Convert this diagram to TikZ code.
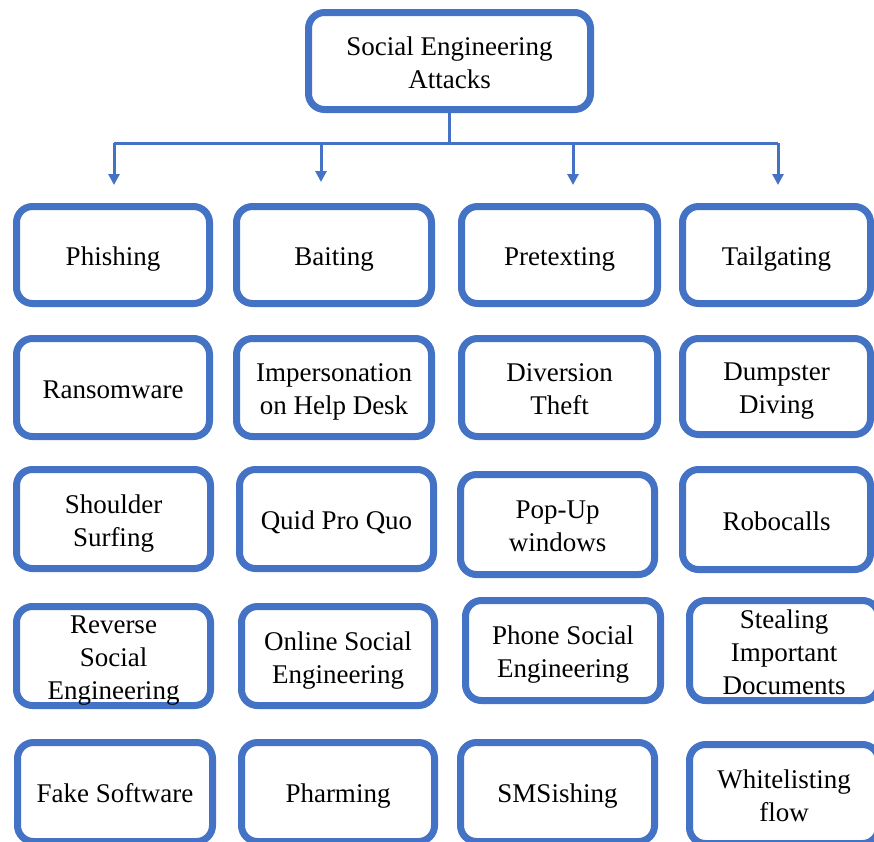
\documentclass[tikz,border=0pt]{standalone}
\usepackage{fontspec}
\setmainfont{Liberation Serif}
\usetikzlibrary{arrows.meta}
\definecolor{seblue}{HTML}{4472C4}
\newcommand\boxlbl[1]{\raisebox{0pt}[\dimexpr\height+4pt\relax][\dimexpr\depth-4pt\relax]{\begin{tabular}{@{}c@{}}#1\end{tabular}}}
\begin{document}
\begin{tikzpicture}[x=1pt,y=-1pt,
  box/.style={draw=seblue, line width=7pt, rounded corners=16pt, fill=white,
    inner sep=0pt, font=\fontsize{27}{33}\selectfont},
  conn/.style={draw=seblue, line width=3pt},
  arr/.style={conn, -{Triangle[width=11pt,length=11pt]}}]
\useasboundingbox (0,0) rectangle (874,841);
\fill[white] (0,0) rectangle (874,841);
\clip (0,0) rectangle (874,841);
% top
\node[box, minimum width=282pt, minimum height=97pt] (top) at (449.5,61) {\boxlbl{Social Engineering\\Attacks}};
% row 1
\node[box, minimum width=193pt, minimum height=97pt] (phishing) at (113,255) {\boxlbl{Phishing}};
\node[box, minimum width=195pt, minimum height=97pt] (baiting) at (334,255) {\boxlbl{Baiting}};
\node[box, minimum width=196pt, minimum height=97pt] (pretexting) at (559.5,255) {\boxlbl{Pretexting}};
\node[box, minimum width=188pt, minimum height=97pt] (tailgating) at (776.5,255) {\boxlbl{Tailgating}};
% row 2
\node[box, minimum width=193pt, minimum height=98pt] (ransomware) at (113,387.5) {\boxlbl{Ransomware}};
\node[box, minimum width=195pt, minimum height=98pt] (impersonation) at (334,387.5) {\boxlbl{Impersonation\\on Help Desk}};
\node[box, minimum width=196pt, minimum height=98pt] (diversion) at (559.5,387.5) {\boxlbl{Diversion\\Theft}};
\node[box, minimum width=188pt, minimum height=96pt] (dumpster) at (776.5,386.5) {\boxlbl{Dumpster\\Diving}};
% row 3
\node[box, minimum width=194pt, minimum height=99pt] (shoulder) at (113.5,519) {\boxlbl{Shoulder\\Surfing}};
\node[box, minimum width=194pt, minimum height=99pt] (quid) at (336.5,519) {\boxlbl{Quid Pro Quo}};
\node[box, minimum width=194pt, minimum height=100pt] (popup) at (557.5,524.5) {\boxlbl{Pop-Up\\windows}};
\node[box, minimum width=188pt, minimum height=100pt] (robocalls) at (776.5,519.5) {\boxlbl{Robocalls}};
% row 4
\node[box, minimum width=194pt, minimum height=99pt] (reverse) at (113.5,656) {\boxlbl{Reverse\\Social\\Engineering}};
\node[box, minimum width=193pt, minimum height=99pt] (online) at (338,656) {\boxlbl{Online Social\\Engineering}};
\node[box, minimum width=195pt, minimum height=100pt] (phone) at (563,650.5) {\boxlbl{Phone Social\\Engineering}};
\node[box, minimum width=189pt, minimum height=100pt] (stealing) at (784,650.5) {\boxlbl{Stealing\\Important\\Documents}};
% row 5
\node[box, minimum width=195pt, minimum height=99pt] (fake) at (115,792) {\boxlbl{Fake Software}};
\node[box, minimum width=193pt, minimum height=99pt] (pharming) at (338,792) {\boxlbl{Pharming}};
\node[box, minimum width=194pt, minimum height=99pt] (smsishing) at (557.5,792) {\boxlbl{SMSishing}};
\node[box, minimum width=189pt, minimum height=99pt] (whitelisting) at (784,794) {\boxlbl{Whitelisting\\flow}};
% connectors
\coordinate (barL) at (114,143);
\coordinate (barR) at (778,143);
\coordinate (hub) at (top.south |- barL);
\coordinate (s2) at (321,141.5);
\coordinate (s3) at (573,143);
\coordinate (t1) at (114,185);
\coordinate (t2) at (321,182);
\coordinate (t3) at (573,185);
\coordinate (t4) at (778,185);
\draw[conn] (top.south) -- (hub);
\draw[conn] (barL) -- (barR);
\draw[arr] (barL) -- (t1);
\draw[arr] (s2) -- (t2);
\draw[arr] (s3) -- (t3);
\draw[arr] (barR) -- (t4);
\end{tikzpicture}
\end{document}
